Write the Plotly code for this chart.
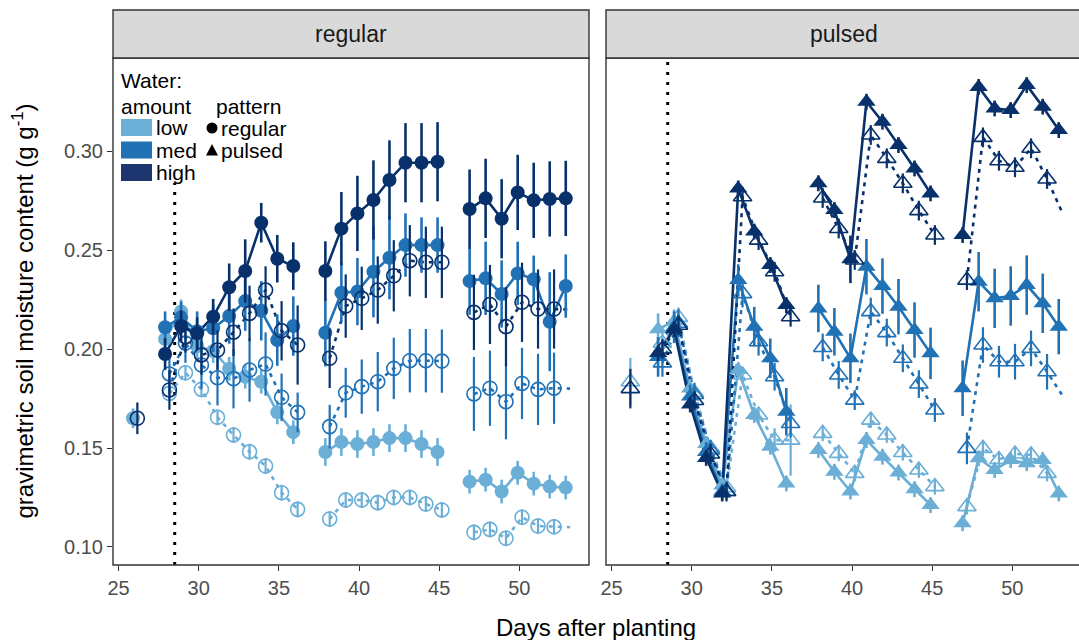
import plotly.graph_objects as go

N = None
DAYS = list(range(26, 54))  # 26..53, gaps (27, 37, 46) are None in series

# ---------- regular facet ----------
REG_LOW_F = [0.165, N, 0.205, 0.219, 0.2015, 0.199, 0.190, 0.186, 0.1835, 0.168, 0.158, N,
             0.148, 0.153, 0.152, 0.153, 0.155, 0.155, 0.152, 0.148, N,
             0.133, 0.134, 0.128, 0.1375, 0.132, 0.1305, 0.130]
REG_LOW_F_SE = [0.005, 0, 0.006, 0.006, 0.006, 0.006, 0.006, 0.006, 0.006, 0.006, 0.006, 0,
                0.007, 0.007, 0.007, 0.007, 0.007, 0.007, 0.007, 0.007, 0,
                0.006, 0.006, 0.006, 0.006, 0.006, 0.006, 0.006]
REG_MED_F = [N, N, 0.211, 0.216, 0.209, 0.2105, 0.2167, 0.2242, 0.2193, 0.2045, 0.2116, N,
             0.2082, 0.2284, 0.229, 0.239, 0.2461, 0.2525, 0.2525, 0.2525, N,
             0.2343, 0.2357, 0.2278, 0.2382, 0.2352, 0.2138, 0.2318]
REG_MED_F_SE = [0, 0, 0.008, 0.008, 0.010, 0.012, 0.014, 0.015, 0.015, 0.013, 0.015, 0,
                0.017, 0.015, 0.017, 0.023, 0.021, 0.016, 0.014, 0.014, 0,
                0.017, 0.0185, 0.017, 0.016, 0.012, 0.025, 0.016]
REG_HIGH_F = [N, N, 0.1975, 0.2116, 0.208, 0.2163, 0.2312, 0.2394, 0.2638, 0.2456, 0.2419, N,
              0.2394, 0.2608, 0.2685, 0.2753, 0.2854, 0.2941, 0.2941, 0.2946, N,
              0.2707, 0.2761, 0.2658, 0.2791, 0.2751, 0.2758, 0.2761]
REG_HIGH_F_SE = [0, 0, 0.008, 0.008, 0.008, 0.009, 0.012, 0.016, 0.010, 0.012, 0.012, 0,
                 0.015, 0.0185, 0.019, 0.020, 0.020, 0.020, 0.020, 0.020, 0,
                 0.020, 0.020, 0.020, 0.019, 0.019, 0.019, 0.019]
REG_LOW_H = [N, N, 0.1776, 0.188, 0.1796, 0.1655, 0.1566, 0.1481, 0.1409, 0.1274, 0.119, N,
             0.1141, 0.1237, 0.1237, 0.1224, 0.125, 0.125, 0.1217, 0.1187, N,
             0.1074, 0.1089, 0.1044, 0.115, 0.1106, 0.1102, 0.110]
REG_LOW_H_SE = [0, 0, 0.004, 0.004, 0.004, 0.004, 0.004, 0.004, 0.004, 0.004, 0.004, 0,
                0.004, 0.004, 0.004, 0.004, 0.004, 0.004, 0.004, 0.004, 0,
                0.004, 0.004, 0.004, 0.004, 0.004, 0.004, 0]
REG_MED_H = [N, N, 0.1874, 0.203, 0.1919, 0.1855, 0.185, 0.1894, 0.1924, 0.1756, 0.168, N,
             0.1608, 0.1779, 0.181, 0.1835, 0.1902, 0.1941, 0.1941, 0.1939, N,
             0.1773, 0.1802, 0.1734, 0.1826, 0.1796, 0.1802, 0.180]
REG_MED_H_SE = [0, 0, 0.010, 0.010, 0.012, 0.014, 0.015, 0.016, 0.016, 0.012, 0.010, 0,
                0.011, 0.0126, 0.0137, 0.015, 0.0155, 0.016, 0.016, 0.016, 0,
                0.0187, 0.019, 0.019, 0.018, 0.018, 0.018, 0]
REG_HIGH_H = [0.165, N, 0.1793, 0.2062, 0.197, 0.1995, 0.2085, 0.218, 0.2298, 0.2092, 0.202, N,
              0.1953, 0.2217, 0.2256, 0.2298, 0.237, 0.2446, 0.2438, 0.2438, N,
              0.2185, 0.2225, 0.2113, 0.2236, 0.2202, 0.2202, 0.220]
REG_HIGH_H_SE = [0.008, 0, 0.010, 0.008, 0.010, 0.010, 0.012, 0.014, 0.012, 0.015, 0.020, 0,
                 0.015, 0.016, 0.016, 0.017, 0.018, 0.018, 0.018, 0.018, 0,
                 0.019, 0.020, 0.020, 0.020, 0.020, 0.020, 0]

# ---------- pulsed facet ----------
PUL_LOW_F = [N, N, 0.210, 0.214, 0.180, 0.152, 0.131, 0.1894, 0.1667, 0.1506, 0.1321, N,
             0.149, 0.138, 0.128, 0.154, 0.1456, 0.1376, 0.1292, 0.1212, N,
             0.112, 0.1448, 0.1389, 0.1439, 0.1423, 0.1439, 0.127]
PUL_LOW_F_SE = [0, 0, 0.008, 0.006, 0.005, 0.004, 0.004, 0.004, 0.004, 0.004, 0.004, 0,
                0.004, 0.004, 0.004, 0.004, 0.004, 0.004, 0.004, 0.004, 0,
                0.004, 0.004, 0.004, 0.004, 0.004, 0.004, 0.004]
PUL_MED_F = [N, N, 0.196, 0.211, 0.176, 0.148, 0.128, 0.2348, 0.2113, 0.1953, 0.1683, N,
             0.2205, 0.2087, 0.1953, 0.2416, 0.2318, 0.2214, 0.2096, 0.1978, N,
             0.1802, 0.234, 0.2256, 0.2268, 0.2323, 0.2231, 0.2113]
PUL_MED_F_SE = [0, 0, 0.010, 0.008, 0.006, 0.005, 0.004, 0.008, 0.010, 0.010, 0.012, 0,
                0.012, 0.012, 0.0125, 0.014, 0.014, 0.014, 0.014, 0.013, 0,
                0.014, 0.015, 0.015, 0.015, 0.015, 0.015, 0.014]
PUL_HIGH_F = [N, N, 0.198, 0.210, 0.172, 0.145, 0.127, 0.2811, 0.2593, 0.2424, 0.2222, N,
              0.2837, 0.2702, 0.2453, 0.3249, 0.3148, 0.303, 0.2912, 0.2786, N,
              0.2576, 0.3324, 0.3215, 0.3207, 0.3333, 0.3224, 0.3106]
PUL_HIGH_F_SE = [0, 0, 0.004, 0.004, 0.004, 0.004, 0.004, 0.004, 0.004, 0.004, 0.004, 0,
                 0.004, 0.004, 0.012, 0.004, 0.004, 0.004, 0.004, 0.004, 0,
                 0.004, 0.004, 0.004, 0.004, 0.004, 0.004, 0.004]
PUL_LOW_H = [0.1835, N, 0.203, 0.216, 0.178, 0.150, 0.130, 0.1869, 0.1667, 0.154, 0.154, N,
             0.1574, 0.1473, 0.1372, 0.1641, 0.1566, 0.1477, 0.1389, 0.1305, N,
             0.1204, 0.1498, 0.1442, 0.147, 0.1465, 0.1372, N]
PUL_LOW_H_SE = [0.012, 0, 0.006, 0.005, 0.004, 0.004, 0.004, 0.004, 0.004, 0.006, 0.018, 0,
                0.004, 0.004, 0.004, 0.004, 0.004, 0.004, 0.004, 0.004, 0,
                0.004, 0.004, 0.004, 0.004, 0.004, 0.004, 0]
PUL_MED_H = [N, N, 0.193, 0.213, 0.177, 0.149, 0.128, 0.228, 0.2037, 0.186, 0.1624, N,
             0.2008, 0.1869, 0.1742, 0.2189, 0.2083, 0.1953, 0.1823, 0.1692, N,
             0.1498, 0.202, 0.1936, 0.1936, 0.2003, 0.1885, 0.176]
PUL_MED_H_SE = [0, 0, 0.007, 0.007, 0.006, 0.005, 0.004, 0.007, 0.007, 0.007, 0.007, 0,
                0.007, 0.007, 0.005, 0.007, 0.007, 0.007, 0.007, 0.006, 0,
                0.008, 0.009, 0.008, 0.009, 0.009, 0.009, 0]
PUL_HIGH_H = [0.180, N, 0.200, 0.212, 0.174, 0.147, 0.128, 0.2769, 0.255, 0.239, 0.2163, N,
              0.2763, 0.2609, 0.245, 0.3081, 0.2963, 0.2837, 0.2699, 0.2576, N,
              0.2348, 0.3069, 0.2951, 0.2918, 0.3014, 0.2859, 0.268]
PUL_HIGH_H_SE = [0.010, 0, 0.005, 0.005, 0.005, 0.005, 0.005, 0.005, 0.005, 0.005, 0.005, 0,
                 0.005, 0.005, 0.005, 0.005, 0.005, 0.005, 0.005, 0.005, 0,
                 0.005, 0.005, 0.005, 0.005, 0.005, 0.005, 0]

X_TICKS = [25, 30, 35, 40, 45, 50]
Y_TICKS = [0.10, 0.15, 0.20, 0.25, 0.30]
Y_TICK_TEXT = ["0.10", "0.15", "0.20", "0.25", "0.30"]
AMOUNTS = ["low", "med", "high"]
PATTERNS = ["regular", "pulsed"]

COL = {"low": "#6baed6", "med": "#2171b5", "high": "#08306b"}
SWATCH = {"low": "#6baed6", "med": "#2171b5", "high": "#1d3670"}
FONT = "Liberation Sans, Arial, sans-serif"

W, H = 1079, 640
ML, MR, MT, MB = 113, 0, 58, 75
PW = W - ML - MR
PH = H - MT - MB
DOM1 = [0, 476 / PW]
DOM2 = [493 / PW, 1.0]
XR1 = [24.65, 54.35]
XR2 = [24.65, 24.65 + 473 * (29.7 / 476)]
YR = [0.0909, 0.347]

def px(x):
    return (x - ML) / PW

def py(y):
    return (H - MB - y) / PH

fig = go.Figure()

series = {
    ("x", "low"): (REG_LOW_F, REG_LOW_F_SE, REG_LOW_H, REG_LOW_H_SE),
    ("x", "med"): (REG_MED_F, REG_MED_F_SE, REG_MED_H, REG_MED_H_SE),
    ("x", "high"): (REG_HIGH_F, REG_HIGH_F_SE, REG_HIGH_H, REG_HIGH_H_SE),
    ("x2", "low"): (PUL_LOW_F, PUL_LOW_F_SE, PUL_LOW_H, PUL_LOW_H_SE),
    ("x2", "med"): (PUL_MED_F, PUL_MED_F_SE, PUL_MED_H, PUL_MED_H_SE),
    ("x2", "high"): (PUL_HIGH_F, PUL_HIGH_F_SE, PUL_HIGH_H, PUL_HIGH_H_SE),
}
OFF_F, OFF_H = -0.1, 0.17

# lines first
for (xa, amt), (vf, sf, vh, sh) in series.items():
    ya = "y" if xa == "x" else "y2"
    c = COL[amt]
    fig.add_trace(go.Scatter(x=[d + OFF_F for d in DAYS], y=vf, mode="lines", xaxis=xa, yaxis=ya,
                             line=dict(color=c, width=2.6), connectgaps=False, showlegend=False,
                             hoverinfo="skip"))
    fig.add_trace(go.Scatter(x=[d + OFF_H for d in DAYS], y=vh, mode="lines", xaxis=xa, yaxis=ya,
                             line=dict(color=c, width=2.6, dash="4px,5px"), connectgaps=False,
                             showlegend=False, hoverinfo="skip"))

# points + error bars
for (xa, amt), (vf, sf, vh, sh) in series.items():
    ya = "y" if xa == "x" else "y2"
    c = COL[amt]
    sym = "circle" if xa == "x" else "triangle-up"
    sz = 14 if xa == "x" else 16
    fig.add_trace(go.Scatter(x=[d + OFF_F for d in DAYS], y=vf, mode="markers", xaxis=xa, yaxis=ya,
                             marker=dict(color=c, size=sz, symbol=sym, line=dict(width=0)),
                             error_y=dict(type="data", array=sf, visible=True, color=c,
                                          thickness=2.6, width=0),
                             showlegend=False))
    fig.add_trace(go.Scatter(x=[d + OFF_H for d in DAYS[:-1]], y=vh[:-1], mode="markers",
                             xaxis=xa, yaxis=ya,
                             marker=dict(color=c, size=sz, symbol=sym + "-open", line=dict(width=1.6, color=c)),
                             error_y=dict(type="data", array=sh[:-1], visible=True, color=c,
                                          thickness=2.2, width=0),
                             showlegend=False))

shapes = []
annotations = []
# dotted treatment line
for xa in ["x", "x2"]:
    shapes.append(dict(type="line", xref=xa, yref="paper", x0=28.5, x1=28.5, y0=0, y1=1,
                       line=dict(color="black", width=3, dash="3px,7px"), layer="below"))
# panel borders and strips
for dom, label in [(DOM1, PATTERNS[0]), (DOM2, PATTERNS[1])]:
    x1 = dom[1] if dom is DOM1 else 1.01
    shapes.append(dict(type="rect", xref="paper", yref="paper", x0=dom[0], x1=x1, y0=0, y1=1,
                       line=dict(color="#333333", width=1.4), fillcolor="rgba(0,0,0,0)"))
    shapes.append(dict(type="rect", xref="paper", yref="paper", x0=dom[0], x1=x1, y0=1, y1=1 + 48 / PH,
                       line=dict(color="#333333", width=1.4), fillcolor="#d9d9d9"))
    cx = (dom[0] + dom[1]) / 2 if dom is DOM1 else (dom[0] + dom[0] + 476 / PW) / 2
    annotations.append(dict(x=cx, y=1 + 24 / PH, xref="paper", yref="paper", text=label,
                            showarrow=False, font=dict(size=23, color="#1a1a1a", family=FONT),
                            xanchor="center", yanchor="middle"))

# legend (inside left panel)
shapes.append(dict(type="rect", xref="paper", yref="paper", x0=px(116), x1=px(293), y0=py(183), y1=py(62),
                   line=dict(width=0), fillcolor="white"))
def txt(x, y, s, size=21, anchor="left"):
    annotations.append(dict(x=px(x), y=py(y), xref="paper", yref="paper", text=s, showarrow=False,
                            font=dict(size=size, color="black", family=FONT),
                            xanchor=anchor, yanchor="middle"))
txt(119, 80, "Water:")
txt(119, 106, "amount")
txt(214, 106, "pattern")
for i, amt in enumerate(AMOUNTS):
    y0 = 119 + i * 22.5
    shapes.append(dict(type="rect", xref="paper", yref="paper", x0=px(121), x1=px(152),
                       y0=py(y0 + 17), y1=py(y0), line=dict(width=0), fillcolor=SWATCH[amt]))
    txt(154, y0 + 8.5, amt)
# pattern key glyphs as shapes
shapes.append(dict(type="circle", xref="paper", yref="paper", x0=px(206.5), x1=px(217.5),
                   y0=py(133.5), y1=py(122.5), fillcolor="black", line=dict(width=0)))
shapes.append(dict(type="path", xref="paper", yref="paper",
                   path="M {:.5f},{:.5f} L {:.5f},{:.5f} L {:.5f},{:.5f} Z".format(
                       px(206), py(155.5), px(218), py(155.5), px(212), py(144)),
                   fillcolor="black", line=dict(width=0)))
txt(219, 128, PATTERNS[0])
txt(219, 150, PATTERNS[1])

# axis titles
annotations.append(dict(x=0.5, y=py(627), xref="paper", yref="paper", text="Days after planting",
                        showarrow=False, font=dict(size=24, color="black", family=FONT),
                        xanchor="center", yanchor="middle"))
annotations.append(dict(x=px(22), y=0.5, xref="paper", yref="paper",
                        text="gravimetric soil moisture content (g g<sup>-1</sup>)", textangle=-90,
                        showarrow=False, font=dict(size=24, color="black", family=FONT),
                        xanchor="center", yanchor="middle"))

xcommon = dict(tickvals=X_TICKS, ticks="outside", ticklen=5, tickwidth=1.2, tickcolor="#333333",
               tickfont=dict(size=20, color="#4d4d4d", family=FONT), showgrid=False, zeroline=False,
               showline=False)
fig.update_layout(
    width=W, height=H, margin=dict(l=ML, r=MR, t=MT, b=MB),
    paper_bgcolor="white", plot_bgcolor="white",
    xaxis=dict(domain=DOM1, range=XR1, anchor="y", **xcommon),
    xaxis2=dict(domain=DOM2, range=XR2, anchor="y2", **xcommon),
    yaxis=dict(range=YR, tickvals=Y_TICKS, ticktext=Y_TICK_TEXT, ticks="outside", ticklen=5,
               tickwidth=1.2, tickcolor="#333333", tickfont=dict(size=20, color="#4d4d4d", family=FONT),
               showgrid=False, zeroline=False, showline=False, anchor="x"),
    yaxis2=dict(range=YR, matches="y", showticklabels=False, ticks="", showgrid=False, zeroline=False,
                showline=False, anchor="x2"),
    shapes=shapes, annotations=annotations, showlegend=False,
)
fig.write_html("out.html", config={"displayModeBar": False},
               post_script="document.body.style.margin='0';document.body.style.overflow='hidden';")
